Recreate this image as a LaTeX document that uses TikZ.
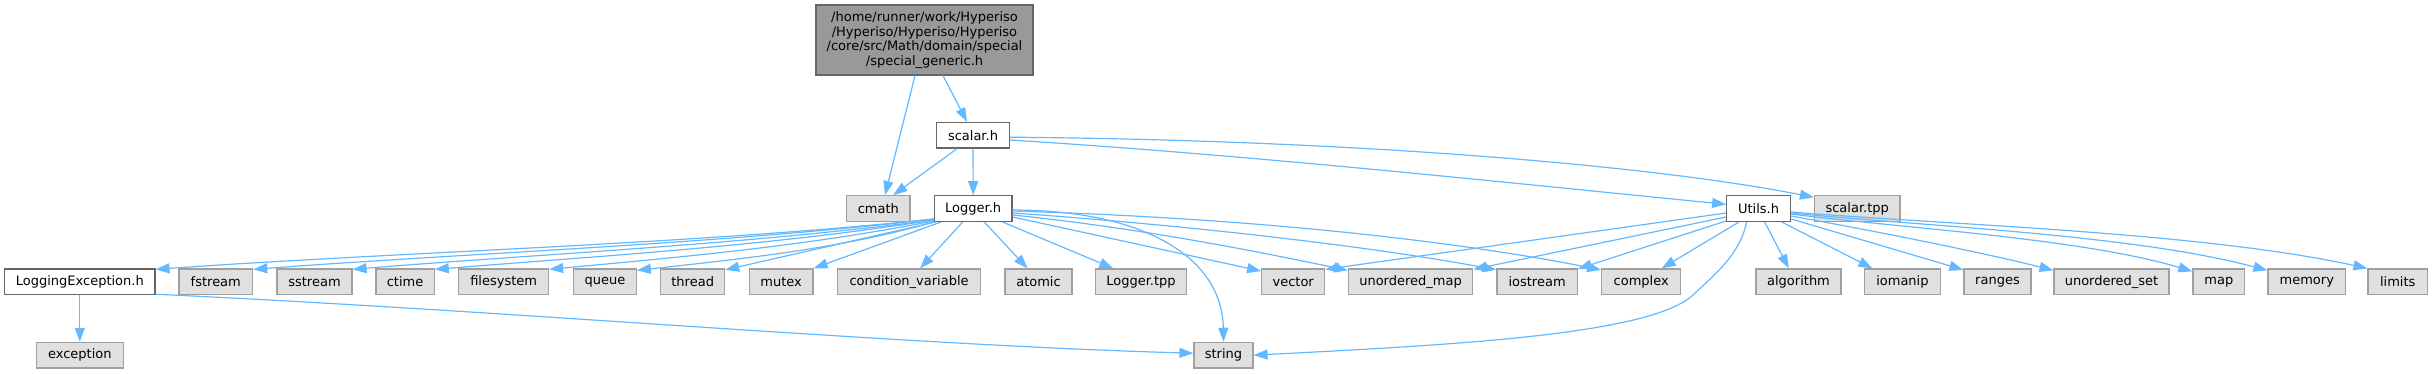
\documentclass[tikz,border=0pt]{standalone}
\usepackage{fontspec}
\setmainfont{DejaVu Sans}
\usetikzlibrary{calc,arrows.meta}
\definecolor{edgec}{HTML}{63B8FF}
\definecolor{gfill}{HTML}{E0E0E0}
\definecolor{gborder}{HTML}{A0A0A0}
\definecolor{wborder}{HTML}{666666}
\definecolor{mfill}{HTML}{999999}
\tikzset{
  nodebase/.style={line width=1.2pt, minimum height=25.7pt, inner sep=0pt, font=\fontsize{13}{15}\selectfont, text=black},
  gbox/.style={nodebase, draw=gborder, fill=gfill},
  wbox/.style={nodebase, draw=wborder, fill=white},
  mbox/.style={nodebase, draw=wborder, fill=mfill, align=center, font=\fontsize{13}{14.8}\selectfont},
  dep/.style={draw=edgec, line width=1.2pt, -{Triangle[length=14pt,width=10pt]}}
}
\begin{document}
\begin{tikzpicture}[x=1pt,y=-1pt]
\useasboundingbox (0,0) rectangle (2433,373);
% row 0
\node[mbox, minimum width=217pt, minimum height=70pt] (main) at (924.5,40) {/home/runner/work/Hyperiso\\/Hyperiso/Hyperiso/Hyperiso\\/core/src/Math/domain/special\\/special\_generic.h};
% row 1
\node[wbox, minimum width=72.6pt] (scalar) at (973,135.2) {scalar.h};
% row 2
\node[gbox, minimum width=63.3pt] (cmath) at (878.3,208.5) {cmath};
\node[wbox, minimum width=77.7pt] (logger) at (973.2,208.5) {Logger.h};
\node[wbox, minimum width=63.8pt] (utils) at (1758.6,208.5) {Utils.h};
\node[gbox, minimum width=85.5pt] (scalartpp) at (1857.2,208.5) {scalar.tpp};
% row 3
\node[wbox, minimum width=150.3pt] (le) at (79.8,281.8) {LoggingException.h};
\node[gbox, minimum width=73.7pt] (fstream) at (215.8,281.8) {fstream};
\node[gbox, minimum width=75pt] (sstream) at (314.5,281.8) {sstream};
\node[gbox, minimum width=58.2pt] (ctime) at (405.1,281.8) {ctime};
\node[gbox, minimum width=89.8pt] (filesystem) at (503.7,281.8) {filesystem};
\node[gbox, minimum width=62.5pt] (queue) at (605,281.8) {queue};
\node[gbox, minimum width=63.9pt] (thread) at (692.7,281.8) {thread};
\node[gbox, minimum width=63.9pt] (mutex) at (781.1,281.8) {mutex};
\node[gbox, minimum width=143.1pt] (condvar) at (909.1,281.8) {condition\_variable};
\node[gbox, minimum width=67pt] (atomic) at (1038.5,281.8) {atomic};
\node[gbox, minimum width=90.6pt] (loggertpp) at (1141,281.8) {Logger.tpp};
\node[gbox, minimum width=63pt] (vector) at (1293.2,281.8) {vector};
\node[gbox, minimum width=124.4pt] (umap) at (1410.5,281.8) {unordered\_map};
\node[gbox, minimum width=80.3pt] (iostream) at (1537.1,281.8) {iostream};
\node[gbox, minimum width=79pt] (complex) at (1641.2,281.8) {complex};
\node[gbox, minimum width=85pt] (algorithm) at (1798.5,281.8) {algorithm};
\node[gbox, minimum width=75.7pt] (iomanip) at (1902.4,281.8) {iomanip};
\node[gbox, minimum width=67pt] (ranges) at (1997.5,281.8) {ranges};
\node[gbox, minimum width=115pt] (uset) at (2111.5,281.8) {unordered\_set};
\node[gbox, minimum width=51.6pt] (map) at (2218.8,281.8) {map};
\node[gbox, minimum width=77.6pt] (memory) at (2306.8,281.8) {memory};
\node[gbox, minimum width=59.4pt] (limits) at (2397.7,281.8) {limits};
% row 4
\node[gbox, minimum width=87pt] (exception) at (79.8,355.2) {exception};
\node[gbox, minimum width=59pt] (string) at (1223.5,355.2) {string};

% main
\draw[dep] ($(main.south)+(-9.5,0)$) -- ($(cmath.north)+(6.7,0)$);
\draw[dep] ($(main.south)+(18.5,0)$) -- ($(scalar.north)+(-6,0)$);
% scalar
\draw[dep] ($(scalar.south)+(-16,0)$) -- ($(cmath.north)+(15,0)$);
\draw[dep] (scalar.south) -- (logger.north);
\draw[dep] ($(scalar.east)+(0,4.8)$) .. controls (1250,155) and (1500,182) .. ($(utils.west)+(0,-4.2)$);
\draw[dep] ($(scalar.east)+(0,2)$) .. controls (1350,140) and (1650,165) .. ($(scalartpp.north west)+(0,2.3)$);
% logger left
\draw[dep] ($(logger.south west)+(0,-3)$) .. controls (700,244) and (400,252) .. ($(le.north east)+(0,1)$);
\draw[dep] ($(logger.south west)+(0,-3)$) .. controls (720,244) and (470,253) .. ($(fstream.north east)+(0,1)$);
\draw[dep] ($(logger.south west)+(0,-2)$) .. controls (740,245) and (540,254) .. ($(sstream.north east)+(0,1)$);
\draw[dep] ($(logger.south west)+(0,-2)$) .. controls (770,246) and (600,256) .. ($(ctime.north east)+(0,1)$);
\draw[dep] ($(logger.south west)+(0,-1)$) .. controls (800,247) and (680,257) .. ($(filesystem.north east)+(0,1)$);
\draw[dep] (logger.south west) .. controls (840,249) and (740,259) .. ($(queue.north east)+(0,2)$);
\draw[dep] ($(logger.south west)+(2,0)$) -- ($(thread.north east)+(0,1.5)$);
\draw[dep] ($(logger.south west)+(7.4,0)$) -- (mutex.north east);
\draw[dep] ($(logger.south)+(-10.5,0)$) -- ($(condvar.north)+(11,0)$);
\draw[dep] ($(logger.south)+(11,0)$) -- ($(atomic.north)+(-11,0)$);
\draw[dep] ($(logger.south east)+(-10.3,0)$) -- ($(loggertpp.north)+(-27.7,0)$);
% logger right
\draw[dep] ($(logger.east)+(0,8.5)$) -- ($(vector.north west)+(0,2.7)$);
\draw[dep] ($(logger.east)+(0,6.5)$) .. controls (1140,228) and (1260,252) .. ($(umap.north west)+(0,2)$);
\draw[dep] ($(logger.east)+(0,4.5)$) .. controls (1200,226) and (1380,248) .. ($(iostream.north west)+(0,1.5)$);
\draw[dep] ($(logger.east)+(0,2.5)$) .. controls (1250,218) and (1450,240) .. ($(complex.north west)+(0,1.5)$);
\draw[dep] ($(logger.east)+(0,1.5)$) .. controls (1140,210) and (1222,255) .. (string.north);
% LoggingException
\draw[dep] (le.south) -- (exception.north);
\draw[dep] ($(le.south east)+(0,-1)$) .. controls (500,310) and (900,345) .. ($(string.west)+(0,-2)$);
% utils left
\draw[dep] ($(utils.west)+(0,4.5)$) -- ($(vector.north east)+(0,1)$);
\draw[dep] ($(utils.west)+(0,8.5)$) -- ($(umap.north east)+(0,1)$);
\draw[dep] ($(utils.south west)+(0,-1)$) -- ($(iostream.north east)+(0,0.5)$);
\draw[dep] ($(utils.south)+(-19.6,0)$) -- ($(complex.north)+(20.5,0)$);
\draw[dep] ($(utils.south)+(-12,0)$) .. controls (1740,255) and (1713,276) .. (1693,295) .. controls (1650,335) and (1450,345) .. (string.east);
% utils right
\draw[dep] ($(utils.south)+(6,0)$) -- ($(algorithm.north)+(-9.7,0)$);
\draw[dep] ($(utils.south)+(23,0)$) -- ($(iomanip.north west)+(8.4,0)$);
\draw[dep] ($(utils.south east)+(0,-3)$) -- ($(ranges.north west)+(0,1.5)$);
\draw[dep] ($(utils.east)+(0,7.5)$) .. controls (1880,232) and (1980,252) .. ($(uset.north west)+(0,2)$);
\draw[dep] ($(utils.east)+(0,5.5)$) .. controls (1900,228) and (2080,238) .. ($(map.north west)+(0,3)$);
\draw[dep] ($(utils.east)+(0,4.5)$) .. controls (1920,226) and (2130,234) .. ($(memory.north west)+(0,2)$);
\draw[dep] ($(utils.east)+(0,3.5)$) .. controls (1950,225) and (2200,232) .. (limits.north west);
\end{tikzpicture}
\end{document}
